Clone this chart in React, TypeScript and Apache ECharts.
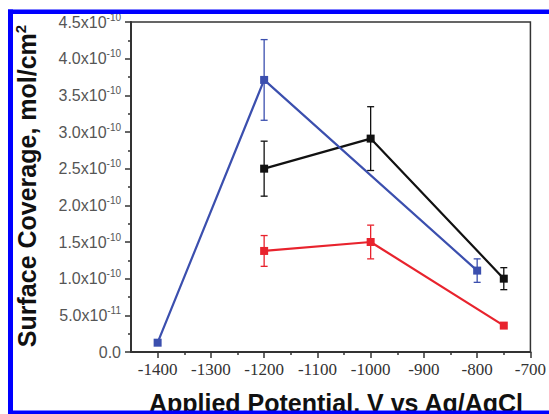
import React, { useEffect, useRef } from 'react';
import * as echarts from 'echarts';

// Values in units of 1e-10 mol/cm^2
const xMajorTicks = [-1400, -1300, -1200, -1100, -1000, -900, -800, -700];
const xMinorTicks = [-1350, -1250, -1150, -1050, -950, -850, -750];

const blueX = [-1400, -1200, -800];
const blueY = [0.127, 3.71, 1.11];
const blueErr = [0, 0.55, 0.16];

const blackX = [-1200, -1000, -750];
const blackY = [2.5, 2.91, 1.0];
const blackErr = [0.375, 0.435, 0.15];

const redX = [-1200, -1000, -750];
const redY = [1.378, 1.5, 0.36];
const redErr = [0.21, 0.23, 0];

const BLUE = '#3b4fae';
const BLACK = '#111111';
const RED = '#e8232d';

const SANS = '"Liberation Sans", Arial, sans-serif';
const SERIF = '"Liberation Serif", "Times New Roman", serif';

function pts(xs: number[], ys: number[]) {
  return xs.map((x, i) => [x, ys[i]]);
}
function errPts(xs: number[], ys: number[], es: number[]) {
  return xs.map((x, i) => [x, ys[i], es[i]]).filter((d) => d[2] > 0);
}

function lineSeries(name: string, xs: number[], ys: number[], color: string) {
  return {
    name,
    type: 'line',
    data: pts(xs, ys),
    symbol: 'rect',
    symbolSize: 8,
    lineStyle: { color, width: 2.2 },
    itemStyle: { color },
    z: 3,
  };
}

function errSeries(xs: number[], ys: number[], es: number[], color: string) {
  return {
    type: 'custom',
    data: errPts(xs, ys, es),
    z: 2,
    renderItem: (params: any, api: any) => {
      const x = api.value(0);
      const y = api.value(1);
      const e = api.value(2);
      const top = api.coord([x, y + e]);
      const bot = api.coord([x, y - e]);
      const cap = 3.5;
      const style = { stroke: color, lineWidth: 1.3 };
      return {
        type: 'group',
        children: [
          { type: 'line', shape: { x1: top[0], y1: top[1], x2: bot[0], y2: bot[1] }, style },
          { type: 'line', shape: { x1: top[0] - cap, y1: top[1], x2: top[0] + cap, y2: top[1] }, style },
          { type: 'line', shape: { x1: bot[0] - cap, y1: bot[1], x2: bot[0] + cap, y2: bot[1] }, style },
        ],
      };
    },
  };
}

function yLabel(v: number) {
  if (Math.abs(v) < 1e-9) return '{a|0.0}';
  if (v < 1) return `{a|${(v * 10).toFixed(1)}x10}{s|-11}`;
  return `{a|${v.toFixed(1)}x10}{s|-10}`;
}

export default function App() {
  const ref = useRef<HTMLDivElement>(null);
  useEffect(() => {
    if (!ref.current) return;
    const chart = echarts.init(ref.current, null, { renderer: 'svg' });
    const grid = { left: 131, top: 22, right: 9, bottom: 62 };
    chart.setOption({
      animation: false,
      backgroundColor: '#ffffff',
      grid: { ...grid, show: true, borderColor: '#333', borderWidth: 1.5 },
      xAxis: [
        {
          type: 'value',
          min: -1450,
          max: -700,
          splitLine: { show: false },
          axisLine: { show: true, lineStyle: { color: '#333', width: 2 } },
          axisTick: { show: true, customValues: xMajorTicks, length: 6, lineStyle: { color: '#333', width: 1.5 } },
          axisLabel: {
            customValues: xMajorTicks,
            formatter: (v: number) => String(v),
            margin: 9,
            fontFamily: SERIF,
            fontSize: 17,
            color: '#333',
            alignMaxLabel: 'center',
            alignMinLabel: 'center',
            hideOverlap: false,
          },
        },
        {
          type: 'value',
          min: -1450,
          max: -700,
          position: 'bottom',
          splitLine: { show: false },
          axisLine: { show: false },
          axisTick: { show: true, customValues: xMinorTicks, length: 3, lineStyle: { color: '#333', width: 1.5 } },
          axisLabel: { show: false },
        },
      ],
      yAxis: {
        type: 'value',
        min: 0,
        max: 4.5,
        interval: 0.5,
        splitLine: { show: false },
        axisLine: { show: true, lineStyle: { color: '#333', width: 2 } },
        axisTick: { show: true, length: 6, lineStyle: { color: '#333', width: 1.5 } },
        minorTick: { show: true, splitNumber: 2, length: 3, lineStyle: { color: '#333', width: 1.5 } },
        axisLabel: {
          margin: 10,
          formatter: yLabel,
          rich: {
            a: { fontFamily: SANS, fontSize: 16, color: '#555', lineHeight: 20 },
            s: { fontFamily: SANS, fontSize: 10, color: '#555', lineHeight: 10, verticalAlign: 'top' },
          },
        },
      },
      series: [
        errSeries(blackX, blackY, blackErr, BLACK),
        errSeries(redX, redY, redErr, RED),
        errSeries(blueX, blueY, blueErr, BLUE),
        lineSeries('black', blackX, blackY, BLACK),
        lineSeries('red', redX, redY, RED),
        lineSeries('blue', blueX, blueY, BLUE),
      ],
      graphic: [
        {
          type: 'text',
          x: 27,
          y: 186,
          rotation: Math.PI / 2,
          style: {
            text: '{a|Surface Coverage, mol/cm}{s|2}',
            align: 'center',
            verticalAlign: 'middle',
            rich: {
              a: { fontFamily: SANS, fontWeight: 'bold', fontSize: 25, fill: '#111', lineHeight: 28 },
              s: { fontFamily: SANS, fontWeight: 'bold', fontSize: 15, fill: '#111', lineHeight: 15, verticalAlign: 'top' },
            },
          },
          z: 10,
        },
        {
          type: 'text',
          x: 336,
          y: 403,
          style: {
            text: 'Applied Potential, V vs Ag/AgCl',
            fontFamily: SANS,
            fontWeight: 'bold',
            fontSize: 25,
            fill: '#111',
            align: 'center',
            verticalAlign: 'middle',
          },
          z: 10,
        },
        { type: 'rect', shape: { x: 8, y: 9.5, width: 560, height: 4.5 }, style: { fill: '#0000ff' }, z: 20 },
        { type: 'rect', shape: { x: 8, y: 9.5, width: 5, height: 420 }, style: { fill: '#0000ff' }, z: 20 },
        { type: 'rect', shape: { x: 8, y: 410.5, width: 560, height: 10 }, style: { fill: '#0000ff' }, z: 20 },
      ],
    });
    return () => chart.dispose();
  }, []);
  return (
    <div
      ref={ref}
      style={{ position: 'absolute', left: 0, top: 0, width: 549, height: 414 }}
    />
  );
}
